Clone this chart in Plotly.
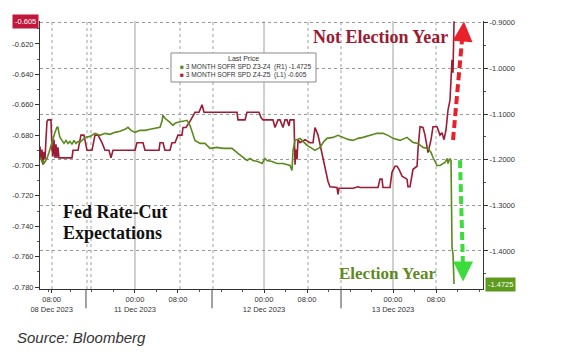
import plotly.graph_objects as go

# ---- data (hours from 00:00 11 Dec 2023 on a trading-time axis) ----
red_t = [-17.67, -17.49, -17.30, -17.12, -16.93, -16.74, -16.56, -16.37, -16.19, -15.63, -15.44, -15.26,
         -15.07, -14.88, -14.70, -14.51, -14.33, -14.14, -11.72, -11.53, -10.60, -10.05, -9.49, -8.93,
         -8.00, -7.44, -6.88, -6.14, -5.58, -4.84, -4.47, -4.09, 0.00, 0.37, 1.49, 1.86, 4.47, 4.65,
         5.21, 5.58, 6.51, 6.88, 7.44, 8.00, 8.74, 8.93, 9.49, 10.23, 11.16, 11.91, 12.47, 12.84,
         18.98, 19.16, 20.47, 20.84, 23.07, 23.44, 23.81, 25.67, 26.05, 26.60, 26.98, 27.53, 27.91,
         28.28, 28.65, 28.84, 29.58, 29.77, 29.95, 30.14, 30.33, 30.70, 31.63, 32.56, 33.12, 33.49,
         34.05, 34.60, 35.35, 35.91, 36.28, 37.58, 37.77, 37.95, 40.56, 41.49, 41.86, 45.21, 45.58,
         45.95, 46.14, 47.44, 47.81, 48.37, 48.74, 49.12, 49.67, 50.60, 50.79, 51.16, 51.72, 52.47,
         52.65, 53.02, 53.58, 53.95, 54.51, 55.07, 55.44, 56.19, 56.74, 57.12, 57.49, 57.86, 58.23,
         58.60, 58.79, 58.98, 59.16, 59.35]
red_v = [-0.6875, -0.696, -0.6895, -0.6995, -0.691, -0.696, -0.683, -0.671, -0.670, -0.670, -0.6895, -0.694,
         -0.683, -0.695, -0.686, -0.695, -0.688, -0.695, -0.695, -0.690, -0.690, -0.680, -0.680, -0.690,
         -0.690, -0.680, -0.680, -0.685, -0.690, -0.690, -0.695, -0.690, -0.690, -0.685, -0.685, -0.690, -0.690, -0.685,
         -0.685, -0.690, -0.690, -0.685, -0.685, -0.680, -0.680, -0.675, -0.675, -0.671, -0.665, -0.665, -0.660, -0.665,
         -0.665, -0.670, -0.670, -0.665, -0.665, -0.6685, -0.670, -0.670, -0.675, -0.670, -0.670, -0.675, -0.670,
         -0.670, -0.674, -0.670, -0.670, -0.6995, -0.6895, -0.696, -0.683, -0.685, -0.683, -0.685, -0.685, -0.675,
         -0.680, -0.6895, -0.7025, -0.7105, -0.714, -0.7145, -0.719, -0.715, -0.715, -0.714, -0.7145, -0.7145, -0.709,
         -0.709, -0.7145, -0.7145, -0.7045, -0.7005, -0.7005, -0.7025, -0.707, -0.709, -0.714, -0.714, -0.7025, -0.7005,
         -0.6895, -0.6745, -0.675, -0.680, -0.6915, -0.683, -0.6745, -0.6745, -0.680, -0.6785, -0.683, -0.6765, -0.6635,
         -0.657, -0.6435, -0.6305, -0.639, -0.605]

green_t = [-17.67, -17.49, -17.30, -17.12, -16.93, -16.74, -16.37, -16.00, -15.63, -15.26, -14.88, -14.51,
           -14.33, -14.14, -13.95, -13.58, -13.21, -12.84, -12.47, -12.09, -11.72, -11.35, -10.98, -10.60,
           -10.23, -9.30, -8.37, -7.44, -6.51, -5.58, -4.65, -3.72, -2.79, -1.86, -1.30, -0.74, 0.00, 0.93,
           1.86, 2.79, 3.72, 4.65, 5.02, 5.21, 5.58, 6.14, 6.51, 7.07, 7.44, 8.00, 8.74, 9.30, 9.67, 10.23,
           10.79, 11.16, 12.09, 13.02, 13.95, 15.26, 16.37, 18.05, 19.16, 20.09, 20.84, 21.40, 21.95, 22.88,
           23.63, 24.19, 24.56, 25.49, 26.42, 27.53, 28.84, 29.21, 29.40, 29.77, 30.70, 31.63, 32.00, 32.93,
           33.49, 34.42, 35.16, 35.72, 36.84, 37.77, 38.70, 39.63, 40.56, 41.49, 42.42, 43.72, 45.02, 46.14,
           47.07, 48.00, 49.30, 50.60, 51.16, 51.72, 52.65, 53.58, 54.51, 55.07, 55.44, 56.19, 56.74, 57.30,
           57.67, 58.05, 58.23, 58.60, 58.79, 58.98, 59.16, 59.35]
green_v = [-1.1952, -1.1974, -1.2062, -1.2018, -1.2084, -1.2040, -1.1974, -1.1841, -1.1687, -1.1533, -1.1401, -1.1291,
           -1.1291, -1.1423, -1.1511, -1.1577, -1.1643, -1.1577, -1.1643, -1.1599, -1.1665, -1.1577, -1.1643, -1.1599,
           -1.1621, -1.1511, -1.1489, -1.1423, -1.1467, -1.1423, -1.1445, -1.1401, -1.1379, -1.1335, -1.1291, -1.1357,
           -1.1401, -1.1357, -1.1357, -1.1335, -1.1313, -1.1291, -1.1159, -1.1026, -1.1093, -1.1137, -1.1181, -1.1247,
           -1.1203, -1.1181, -1.1159, -1.1137, -1.1137, -1.1247, -1.1423, -1.1577, -1.1643, -1.1643, -1.1753, -1.1731,
           -1.1753, -1.1753, -1.1863, -1.1952, -1.2018, -1.1974, -1.2018, -1.2040, -1.2084, -1.1974, -1.2018, -1.2040,
           -1.2084, -1.2084, -1.2128, -1.2238, -1.1797, -1.1577, -1.1533, -1.1643, -1.1687, -1.1753, -1.1797, -1.1731,
           -1.1599, -1.1533, -1.1511, -1.1467, -1.1511, -1.1555, -1.1577, -1.1533, -1.1511, -1.1467, -1.1423, -1.1423,
           -1.1467, -1.1533, -1.1577, -1.1511, -1.1577, -1.1621, -1.1643, -1.1731, -1.1753, -1.1841, -1.1952, -1.2128,
           -1.2128, -1.2084, -1.2062, -1.1974, -1.2084, -1.1974, -1.2018, -1.3934, -1.4066, -1.4725]

x_tickvals = [-15.5, 0, 8, 24, 32, 48, 56]
x_ticktext = ["08:00<br>08 Dec 2023", "00:00<br>11 Dec 2023", "08:00", "00:00<br>12 Dec 2023",
              "08:00", "00:00<br>13 Dec 2023", "08:00"]
left_ticks = [-0.62, -0.64, -0.66, -0.68, -0.70, -0.72, -0.74, -0.76, -0.78]
right_ticks = [-0.9, -1.0, -1.1, -1.2, -1.3, -1.4]
day_starts = [0, 24, 48]
dotted_x = [-15.44, -8.93, -8.19, 8.37, 14.51, 32.19, 38.33, 56.0]
session_breaks = [-9.12, 14.33, 38.33]

RED = "#9c1c36"
GREEN = "#5a8a1c"
LBL = "#333333"
FONT = "Liberation Sans"

fig = go.Figure()
fig.add_trace(go.Scatter(x=green_t, y=green_v, yaxis="y2", mode="lines",
                         line=dict(color=GREEN, width=1.6), showlegend=False))
fig.add_trace(go.Scatter(x=red_t, y=red_v, yaxis="y", mode="lines",
                         line=dict(color=RED, width=1.6), showlegend=False))

shapes = []
for t in dotted_x:
    shapes.append(dict(type="line", xref="x", yref="paper", x0=t, x1=t, y0=0, y1=1,
                       line=dict(color="#a0a0a0", width=1, dash="dot"), layer="below"))
for t in day_starts:
    shapes.append(dict(type="line", xref="x", yref="paper", x0=t, x1=t, y0=0, y1=1,
                       line=dict(color="#b0b0b0", width=1.2), layer="below"))
for t in session_breaks:
    shapes.append(dict(type="line", xref="x", yref="paper", x0=t, x1=t, y0=0, y1=-0.072,
                       line=dict(color="#444444", width=1)))
# legend box
shapes.append(dict(type="rect", xref="paper", yref="paper", x0=0.2957, x1=0.623, y0=0.7724, y1=0.8806,
                   line=dict(color="#8a8a8a", width=1), fillcolor="white"))
# dashed arrows
shapes.append(dict(type="line", xref="paper", yref="paper", x0=0.9323, y0=0.556, x1=0.9535, y1=0.945,
                   line=dict(color="#e8202a", width=4, dash="8px,4px")))
shapes.append(dict(type="line", xref="paper", yref="paper", x0=0.948, y0=0.481, x1=0.955, y1=0.075,
                   line=dict(color="#3ddc3d", width=4, dash="8px,4px")))

ann = []
ann.append(dict(xref="paper", yref="paper", x=0.957, y=0.998, ax=-1, ay=14, showarrow=True,
                arrowhead=2, arrowsize=1, arrowwidth=4, arrowcolor="#e8202a", text=""))
ann.append(dict(xref="paper", yref="paper", x=0.955, y=0.028, ax=0, ay=-14, showarrow=True,
                arrowhead=2, arrowsize=1, arrowwidth=4, arrowcolor="#3ddc3d", text=""))
ann.append(dict(xref="paper", yref="paper", x=0.7675, y=0.940, showarrow=False,
                text="<b>Not Election Year</b>", xanchor="center", yanchor="middle",
                font=dict(family="Liberation Serif", size=18, color="#9b1b33")))
ann.append(dict(xref="paper", yref="paper", x=0.7856, y=0.0597, showarrow=False,
                text="<b>Election Year</b>", xanchor="center", yanchor="middle",
                font=dict(family="Liberation Serif", size=17, color="#5f8a1f")))
ann.append(dict(xref="paper", yref="paper", x=0.0474, y=(289 - 212) / 268, showarrow=False,
                text="<b>Fed Rate-Cut</b>", xanchor="left", yanchor="middle",
                font=dict(family="Liberation Serif", size=18, color="#111111")))
ann.append(dict(xref="paper", yref="paper", x=0.0474, y=(289 - 233) / 268, showarrow=False,
                text="<b>Expectations</b>", xanchor="left", yanchor="middle",
                font=dict(family="Liberation Serif", size=18, color="#111111")))
ann.append(dict(xref="paper", yref="paper", x=0.4594, y=(289 - 58) / 268, showarrow=False,
                text="Last Price", xanchor="center", yanchor="middle",
                font=dict(family=FONT, size=7, color=LBL)))
ann.append(dict(xref="paper", yref="paper", x=0.3115, y=(289 - 66.5) / 268, showarrow=False,
                text="<span style='color:%s'>■</span> 3 MONTH SOFR SPD Z3-Z4  (R1) -1.4725" % GREEN,
                xanchor="left", yanchor="middle", font=dict(family=FONT, size=6.6, color=LBL)))
ann.append(dict(xref="paper", yref="paper", x=0.3115, y=(289 - 75.5) / 268, showarrow=False,
                text="<span style='color:%s'>■</span> 3 MONTH SOFR SPD Z4-Z5  (L1) -0.605" % "#b01c3a",
                xanchor="left", yanchor="middle", font=dict(family=FONT, size=6.6, color=LBL)))
ann.append(dict(xref="paper", yref="paper", x=-0.002, y=1.0, showarrow=False, text="-0.605",
                xanchor="right", yanchor="middle", bgcolor="#c0173b", borderpad=2,
                font=dict(family=FONT, size=7.5, color="white")))
ann.append(dict(xref="paper", yref="paper", x=1.004, y=(289 - 284) / 268, showarrow=False, text="-1.4725",
                xanchor="left", yanchor="middle", bgcolor="#5e9a1c", borderpad=2,
                font=dict(family=FONT, size=7.5, color="white")))
ann.append(dict(xref="paper", yref="paper", x=(15 - 40) / 443, y=(289 - 337) / 268, showarrow=False,
                text="<i>Source: Bloomberg</i>", xanchor="left", yanchor="middle",
                font=dict(family="Liberation Sans", size=15, color="#333333")))

fig.update_layout(
    width=579, height=352,
    margin=dict(l=40, r=96, t=21, b=63),
    paper_bgcolor="white", plot_bgcolor="white",
    showlegend=False,
    font=dict(family=FONT, size=7.5, color=LBL),
    xaxis=dict(range=[-17.67, 64.74], tickmode="array", tickvals=x_tickvals, ticktext=x_ticktext,
               showgrid=False, zeroline=False, showline=True, linecolor="#333333", linewidth=1,
               ticks="outside", ticklen=3, tickcolor="#333333",
               tickfont=dict(family=FONT, size=7.5, color=LBL),
               minor=dict(dtick=4, ticks="outside", ticklen=2, tickcolor="#555555", showgrid=False)),
    yaxis=dict(range=[-0.7813, -0.6049], tickmode="array", tickvals=left_ticks,
               ticktext=["%.3f" % v for v in left_ticks],
               showgrid=False, zeroline=False, showline=True, linecolor="#333333", linewidth=1,
               ticks="outside", ticklen=4, tickcolor="#333333",
               tickfont=dict(family=FONT, size=7.5, color=LBL),
               minor=dict(dtick=0.01, ticks="outside", ticklen=2, tickcolor="#555555", showgrid=False)),
    yaxis2=dict(range=[-1.4835, -0.8960], overlaying="y", side="right", tickmode="array",
                tickvals=right_ticks, ticktext=["%.4f" % v for v in right_ticks],
                showgrid=True, gridcolor="#9a9a9a", griddash="dot", gridwidth=1,
                zeroline=False, showline=True, linecolor="#333333", linewidth=1,
                ticks="outside", ticklen=4, tickcolor="#333333",
                tickfont=dict(family=FONT, size=7.5, color=LBL),
                minor=dict(dtick=0.05, ticks="outside", ticklen=2, tickcolor="#555555", showgrid=False)),
    shapes=shapes,
    annotations=ann,
)

fig.write_html("out.html")
